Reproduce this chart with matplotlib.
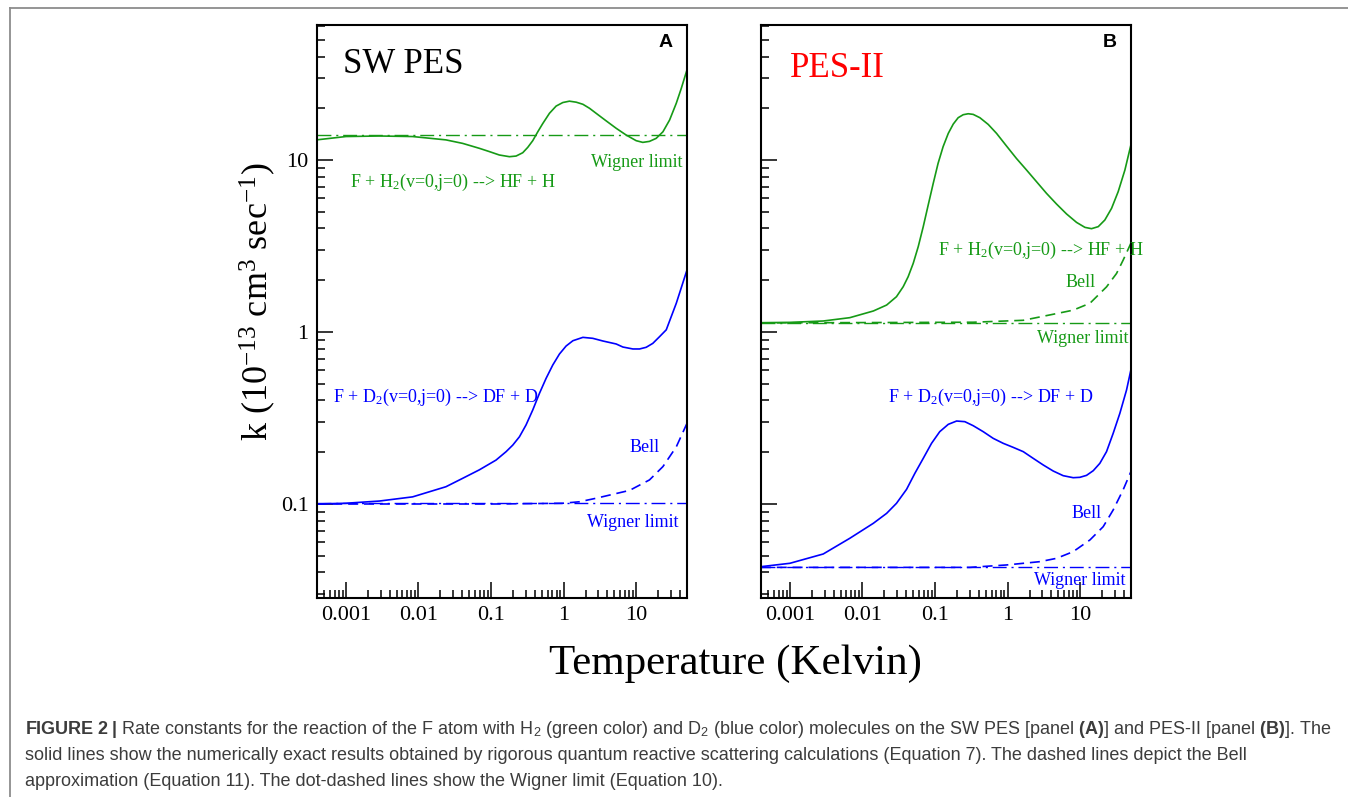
import matplotlib
matplotlib.use("Agg")
import matplotlib.pyplot as plt
from matplotlib.lines import Line2D
from matplotlib.ticker import LogLocator, NullFormatter, FixedLocator, FixedFormatter

plt.rcParams.update({
    "font.family": "Liberation Serif",
    "mathtext.fontset": "custom",
    "mathtext.rm": "Liberation Serif",
    "mathtext.it": "Liberation Serif:italic",
    "mathtext.sf": "Liberation Sans",
    "mathtext.bf": "Liberation Sans:bold",
})

# --- data (T in K, k in 1e-13 cm^3/s) ---

# panel A, SW PES
a_h2_T = [3.94e-4, 0.001, 0.00288, 0.0083, 0.0239, 0.0406, 0.069, 0.0947, 0.130,
          0.179, 0.221, 0.273, 0.320, 0.375, 0.440, 0.515, 0.637, 0.787, 0.973,
          1.20, 1.49, 1.84, 2.27, 2.80, 3.85, 5.29, 7.26, 9.98, 12.3, 15.2,
          18.8, 23.3, 28.8, 35.6, 41.7, 49.9]
a_h2_k = [13.1, 13.7, 13.8, 13.7, 13.1, 12.5, 11.7, 11.2, 10.7,
          10.46, 10.55, 11.03, 11.85, 12.96, 14.6, 16.3, 18.7, 20.6, 21.6,
          22.0, 21.7, 21.1, 20.0, 18.7, 16.9, 15.3, 13.98, 12.96, 12.67, 12.84,
          13.37, 14.6, 17.1, 21.4, 26.1, 33.4]
a_h2_wigner = 13.9

a_d2_T = [3.94e-4, 0.001, 0.00288, 0.0083, 0.0239, 0.0406, 0.069, 0.117, 0.161,
          0.199, 0.246, 0.303, 0.375, 0.464, 0.573, 0.708, 0.875, 1.08, 1.34,
          1.84, 2.52, 3.46, 5.29, 6.54, 8.98, 11.1, 13.7, 16.9, 20.9, 25.9,
          35.6, 49.9]
a_d2_k = [0.100, 0.101, 0.104, 0.110, 0.126, 0.141, 0.158, 0.180, 0.2015,
          0.220, 0.246, 0.288, 0.352, 0.440, 0.538, 0.643, 0.745, 0.829, 0.890,
          0.931, 0.919, 0.887, 0.852, 0.818, 0.797, 0.797, 0.815, 0.859, 0.939, 1.03,
          1.47, 2.29]
a_d2_bell_T = [3.94e-4, 0.117, 0.97, 1.65, 2.8, 8.1, 15.2, 23.3, 35.6, 49.9]
a_d2_bell_k = [0.1, 0.1, 0.101, 0.103, 0.108, 0.120, 0.138, 0.165, 0.215, 0.294]
a_d2_wigner = 0.102

# panel B, PES-II
b_h2_T = [3.99e-4, 0.001, 0.00288, 0.0067, 0.0141, 0.0215, 0.0294, 0.0364, 0.0426,
          0.050, 0.0586, 0.0687, 0.0804, 0.0943, 0.110, 0.129, 0.152, 0.178,
          0.208, 0.244, 0.286, 0.335, 0.414, 0.539, 0.703, 0.965, 1.32, 1.82,
          2.50, 3.43, 4.71, 6.47, 8.89, 11.6, 14.3, 17.7, 21.8, 27.0, 33.3,
          41.2, 49.8]
b_h2_k = [1.133, 1.138, 1.159, 1.212, 1.325, 1.435, 1.605, 1.835, 2.098,
          2.508, 3.135, 4.097, 5.475, 7.317, 9.566, 11.96, 14.29, 16.19,
          17.63, 18.35, 18.59, 18.43, 17.63, 16.12, 14.29, 12.06, 10.22, 8.75,
          7.48, 6.40, 5.55, 4.86, 4.34, 4.06, 3.99, 4.10, 4.48, 5.24, 6.55,
          8.75, 12.23]
b_h2_bell_T = [3.99e-4, 0.335, 1.64, 4.71, 7.98, 13.6, 23.0, 31.6, 39.0, 49.8]
b_h2_bell_k = [1.13, 1.14, 1.17, 1.28, 1.34, 1.47, 1.83, 2.19, 2.62, 3.28]
b_h2_wigner = 1.13

b_d2_T = [3.99e-4, 0.001, 0.00288, 0.0067, 0.0141, 0.0215, 0.0294, 0.0405, 0.0527,
          0.0687, 0.0894, 0.116, 0.152, 0.198, 0.257, 0.335, 0.460, 0.632,
          0.868, 1.19, 1.64, 2.25, 3.09, 4.24, 5.82, 7.99, 9.87, 12.2, 15.1,
          18.6, 23.0, 28.4, 35.1, 43.4, 49.8]
b_d2_k = [0.0432, 0.0452, 0.0512, 0.0632, 0.0772, 0.0882, 0.1009, 0.1217, 0.1508,
          0.1842, 0.2253, 0.2634, 0.2905, 0.3037, 0.3011, 0.2853, 0.2634, 0.2408,
          0.2253, 0.2135, 0.2015, 0.1842, 0.1686, 0.1555, 0.1461, 0.1422, 0.1429,
          0.1467, 0.1562, 0.1723, 0.2015, 0.2575, 0.3365, 0.460, 0.601]
b_d2_bell_T = [3.99e-4, 0.301, 0.964, 2.78, 4.71, 7.98, 13.6, 20.7, 28.4, 39.0, 49.8]
b_d2_bell_k = [0.0428, 0.0428, 0.0442, 0.0462, 0.0483, 0.0528, 0.0618, 0.0738,
               0.0923, 0.121, 0.154]
b_d2_wigner = 0.0428

x_ticks = [0.001, 0.01, 0.1, 1, 10]
x_tick_labels = ["0.001", "0.01", "0.1", "1", "10"]
y_ticks = [0.1, 1, 10]
y_tick_labels = ["0.1", "1", "10"]

GREEN = "#169a16"
BLUE = "#0000ff"
RED = "#ff0000"
CAPTION = "#3c3c3c"

W, H = 1348, 797
fig = plt.figure(figsize=(W / 100, H / 100), dpi=100)


def px_axes(x0, y0, x1, y1):
    return fig.add_axes([x0 / W, 1 - y1 / H, (x1 - x0) / W, (y1 - y0) / H])


def style_axis(ax, show_ylabels):
    ax.set_xscale("log")
    ax.set_yscale("log")
    ax.set_xlim(4e-4, 50)
    ax.set_ylim(0.0284, 61)
    for sp in ax.spines.values():
        sp.set_linewidth(1.5)
    ax.xaxis.set_major_locator(FixedLocator(x_ticks))
    ax.xaxis.set_major_formatter(FixedFormatter(x_tick_labels))
    ax.yaxis.set_major_locator(FixedLocator(y_ticks))
    ax.yaxis.set_major_formatter(FixedFormatter(y_tick_labels if show_ylabels else [""] * 3))
    for axis in (ax.xaxis, ax.yaxis):
        axis.set_minor_locator(LogLocator(base=10, subs=range(2, 10), numticks=20))
        axis.set_minor_formatter(NullFormatter())
    ax.tick_params(which="both", direction="in", top=False, right=False, width=1.1)
    ax.tick_params(which="major", length=11.5, labelsize=16, pad=6)
    ax.tick_params(which="minor", length=5.8)


def note(ax, x, y, s, color, size=13, ha="left"):
    ax.text(x, y, s, transform=ax.transAxes, color=color, fontsize=size,
            ha=ha, va="baseline")


SOLID = dict(lw=1.2, ls="-")
DASH = dict(lw=1.2, ls=(0, (6, 3.5)))
DASHDOT = dict(lw=1.0, ls=(0, (10, 3.5, 1.5, 3.5)))

# --- panel A ---
axA = px_axes(317, 25, 687, 598)
style_axis(axA, True)
axA.axhline(a_h2_wigner, color=GREEN, **DASHDOT)
axA.axhline(a_d2_wigner, color=BLUE, **DASHDOT)
axA.plot(a_d2_bell_T, a_d2_bell_k, color=BLUE, **DASH)
axA.plot(a_h2_T, a_h2_k, color=GREEN, **SOLID)
axA.plot(a_d2_T, a_d2_k, color=BLUE, **SOLID)

note(axA, 0.069, 0.916, "SW PES", "black", size=25)
axA.text(0.943, 0.970, "A", transform=axA.transAxes, fontsize=14, weight="bold",
         family="Liberation Sans", ha="center", va="center")
note(axA, 0.989, 0.753, "Wigner limit", GREEN, ha="right")
note(axA, 0.089, 0.718, r"F + H$_2$(v=0,j=0) --> HF + H", GREEN)
note(axA, 0.042, 0.343, r"F + D$_2$(v=0,j=0) --> DF + D", BLUE)
note(axA, 0.844, 0.255, "Bell", BLUE)
note(axA, 0.978, 0.124, "Wigner limit", BLUE, ha="right")

# --- panel B ---
axB = px_axes(761, 25, 1131, 598)
style_axis(axB, False)
axB.axhline(b_h2_wigner, color=GREEN, **DASHDOT)
axB.axhline(b_d2_wigner, color=BLUE, **DASHDOT)
axB.plot(b_h2_bell_T, b_h2_bell_k, color=GREEN, **DASH)
axB.plot(b_d2_bell_T, b_d2_bell_k, color=BLUE, **DASH)
axB.plot(b_h2_T, b_h2_k, color=GREEN, **SOLID)
axB.plot(b_d2_T, b_d2_k, color=BLUE, **SOLID)

note(axB, 0.078, 0.910, "PES-II", RED, size=25)
axB.text(0.943, 0.970, "B", transform=axB.transAxes, fontsize=14, weight="bold",
         family="Liberation Sans", ha="center", va="center")
note(axB, 0.479, 0.599, r"F + H$_2$(v=0,j=0) --> HF + H", GREEN)
note(axB, 0.822, 0.543, "Bell", GREEN)
note(axB, 0.992, 0.445, "Wigner limit", GREEN, ha="right")
note(axB, 0.344, 0.343, r"F + D$_2$(v=0,j=0) --> DF + D", BLUE)
note(axB, 0.838, 0.139, "Bell", BLUE)
note(axB, 0.984, 0.023, "Wigner limit", BLUE, ha="right")

# --- shared labels ---
fig.text(258 / W, 1 - 302 / H, r"k (10$^{-13}$ cm$^{3}$ sec$^{-1}$)",
         rotation=90, fontsize=26, ha="center", va="center")
fig.text(735 / W, 1 - 674 / H, "Temperature (Kelvin)", fontsize=31,
         ha="center", va="baseline")

# --- outer frame (left and top edges only are visible) ---
fig.add_artist(Line2D([10 / W, 10 / W], [0, 1 - 8 / H], transform=fig.transFigure,
                      color="#8c8c8c", lw=1.3))
fig.add_artist(Line2D([10 / W, 1], [1 - 8 / H, 1 - 8 / H], transform=fig.transFigure,
                      color="#8c8c8c", lw=1.3))

# --- caption ---
caption_lines = [
    r"$\mathbf{FIGURE\ 2\ |}$ Rate constants for the reaction of the F atom with "
    r"H$_{\mathsf{2}}$ (green color) and D$_{\mathsf{2}}$ (blue color) molecules on the "
    r"SW PES [panel $\mathbf{(A)}$] and PES-II [panel $\mathbf{(B)}$]. The",
    "solid lines show the numerically exact results obtained by rigorous quantum "
    "reactive scattering calculations (Equation 7). The dashed lines depict the Bell",
    "approximation (Equation 11). The dot-dashed lines show the Wigner limit "
    "(Equation 10).",
]
for i, line in enumerate(caption_lines):
    fig.text(25 / W, 1 - (734 + 26 * i) / H, line, family="Liberation Sans",
             fontsize=13, color=CAPTION, ha="left", va="baseline")

fig.savefig("out.png", dpi=100)
